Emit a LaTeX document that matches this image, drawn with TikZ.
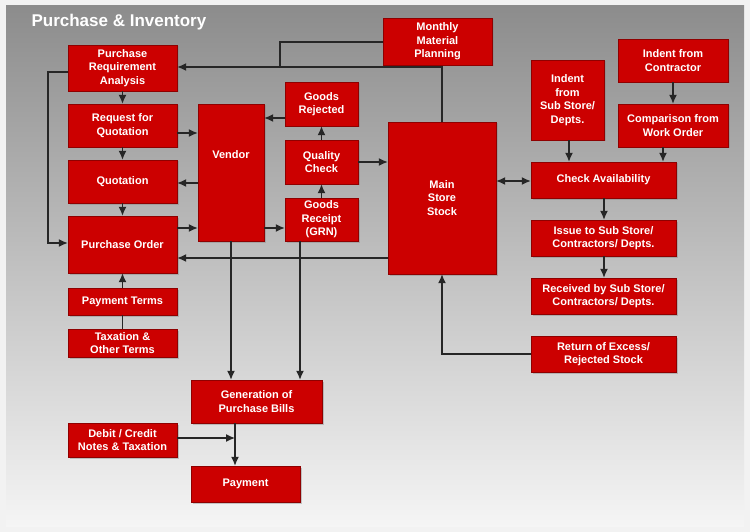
\documentclass[tikz,border=0pt]{standalone}
\usepackage{fontspec}
\setmainfont{Liberation Sans}
\usetikzlibrary{arrows.meta,shadows}
\definecolor{boxred}{HTML}{CC0000}
\begin{document}
\begin{tikzpicture}[x=1pt,y=-1pt,
  box/.style={draw=boxred!70!black, fill=boxred, text=white, font=\bfseries\fontsize{11}{13.5}\selectfont, align=center, inner sep=1pt, drop shadow={shadow xshift=1.5pt,shadow yshift=-1.5pt,opacity=0.4}},
  ln/.style={line width=1.3pt, black!85},
  ar/.style={ln,-{Latex[length=9pt,width=8pt]}}]
\useasboundingbox (0,0) rectangle (750,532);
\fill[white!95!black] (0,0) rectangle (750,532);
\shade[top color=black!45, bottom color=black!4] (6,6) rectangle (744,526);
\node[anchor=west, text=white, font=\bfseries\fontsize{17}{20}\selectfont] (title) at (28,22) {Purchase \& Inventory};
\newcommand{\bx}[6]{\node[box, minimum width=#3-#1, minimum height=#4-#2] (#5) at ({(#1+#3)/2},{(#2+#4)/2}) {#6};}
\bx{68}{45}{177}{91}{pra}{Purchase\\Requirement\\Analysis}
\bx{68}{104}{177}{147}{rfq}{Request for\\Quotation}
\bx{68}{160}{177}{203}{quot}{Quotation}
\bx{68}{216}{177}{273}{po}{Purchase Order}
\bx{68}{288}{177}{315}{pay}{Payment Terms}
\bx{68}{329}{177}{357}{tax}{Taxation \&\\Other Terms}
\bx{198}{104}{264}{241}{ven}{Vendor\\[22pt]}
\bx{285}{82}{358}{126}{rej}{Goods\\Rejected}
\bx{285}{140}{358}{184}{qc}{Quality\\Check}
\bx{285}{198}{358}{241}{grn}{Goods\\Receipt\\(GRN)}
\bx{383}{18}{492}{65}{mmp}{Monthly\\Material\\Planning}
\bx{388}{122}{496}{274}{ms}{Main\\Store\\Stock}
\bx{531}{60}{604}{140}{isub}{Indent\\from\\Sub Store/\\Depts.}
\bx{618}{39}{728}{82}{icon}{Indent from\\Contractor}
\bx{618}{104}{728}{147}{cmp}{Comparison from\\Work Order}
\bx{531}{162}{676}{198}{chk}{Check Availability}
\bx{531}{220}{676}{256}{iss}{Issue to Sub Store/\\Contractors/ Depts.}
\bx{531}{278}{676}{314}{rec}{Received by Sub Store/\\Contractors/ Depts.}
\bx{531}{336}{676}{372}{ret}{Return  of Excess/\\Rejected Stock}
\bx{191}{380}{322}{423}{gen}{Generation of\\Purchase Bills}
\bx{68}{423}{177}{457}{deb}{Debit / Credit\\Notes \& Taxation}
\bx{191}{466}{300}{502}{pmt}{Payment}
% connectors
\draw[ar] (pra.west|-0,72) -- (48,72) -- (48,243) -- (po.west|-0,243);
\draw[ar] (pra) -- (rfq);
\draw[ar] (rfq) -- (quot);
\draw[ar] (quot) -- (po);
\draw[ar] (rfq.east|-0,133) -- (ven.west|-0,133);
\draw[ar] (ven.west|-0,183) -- (quot.east|-0,183);
\draw[ar] (po.east|-0,228) -- (ven.west|-0,228);
\draw[ar] (ven.east|-0,228) -- (grn.west|-0,228);
\draw[ar] (grn) -- (qc);
\draw[ar] (qc) -- (rej);
\draw[ar] (rej.west|-0,118) -- (ven.east|-0,118);
\draw[ar] (qc.east|-0,162) -- (ms.west|-0,162);
\draw[ar] (ms.north-|442,0) -- (442,67) -- (pra.east|-0,67);
\draw[ln] (mmp.west|-0,42) -- (280,42) -- (280,67);
\draw[ar] (ms.west|-0,258) -- (po.east|-0,258);
\draw[ar] (ven.south-|231,0) -- (gen.north-|231,0);
\draw[ar] (grn.south-|300,0) -- (gen.north-|300,0);
\draw[ar] (pay) -- (po);
\draw[ln] (tax) -- (pay);
\draw[ar] (gen.south-|235,0) -- (pmt.north-|235,0);
\draw[ar] (deb.east|-0,438) -- (235,438);
\draw[ln,{Latex[length=9pt,width=8pt]}-{Latex[length=9pt,width=8pt]}] (ms.east|-0,181) -- (chk.west|-0,181);
\draw[ar] (isub.south-|569,0) -- (chk.north-|569,0);
\draw[ar] (cmp.south-|663,0) -- (chk.north-|663,0);
\draw[ar] (icon) -- (icon|-cmp.north);
\draw[ar] (chk.south-|604,0) -- (iss.north-|604,0);
\draw[ar] (iss.south-|604,0) -- (rec.north-|604,0);
\draw[ar] (ret.west|-0,354) -- (442,354) -- (ms.south-|442,0);
\end{tikzpicture}
\end{document}
